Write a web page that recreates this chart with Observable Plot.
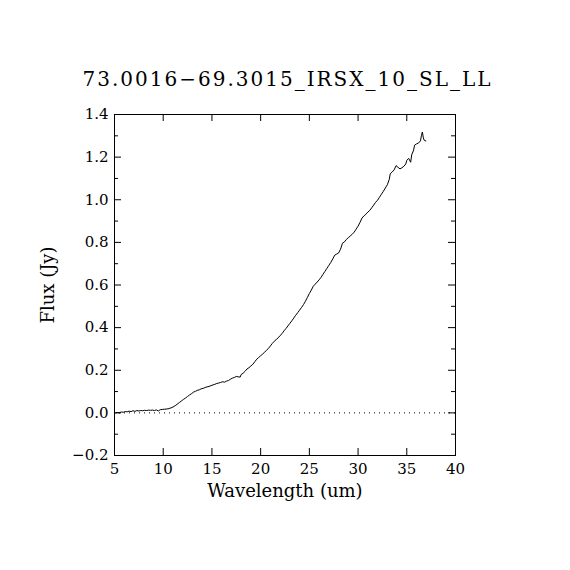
<!DOCTYPE html>
<html>
<head>
<meta charset="utf-8">
<script src="https://cdn.jsdelivr.net/npm/d3@7"></script>
<script src="https://cdn.jsdelivr.net/npm/@observablehq/plot@0.6"></script>
<style>
  html, body { margin: 0; padding: 0; background: #fff; }
</style>
</head>
<body>
<div id="chart"></div>
<script>
const title = "73.0016\u221269.3015_IRSX_10_SL_LL";
const xLabel = "Wavelength (um)";
const yLabel = "Flux (Jy)";

const xTicks = [5, 10, 15, 20, 25, 30, 35, 40];
const yTicks = [-0.2, 0, 0.2, 0.4, 0.6, 0.8, 1.0, 1.2, 1.4];
const yMinorTicks = [-0.1, 0.1, 0.3, 0.5, 0.7, 0.9, 1.1, 1.3];

const wavelength = [
  5.1, 5.3, 5.5, 5.7, 5.9, 6.1, 6.3, 6.5, 6.7, 6.9,
  7.1, 7.3, 7.5, 7.7, 7.9, 8.1, 8.3, 8.5, 8.7, 8.9,
  9.1, 9.3, 9.5, 9.7, 9.9, 10.1, 10.3, 10.5, 10.7, 10.9,
  11.1, 11.3, 11.5, 11.7, 11.9, 12.1, 12.3, 12.5, 12.7, 12.9,
  13.1, 13.3, 13.5, 13.7, 13.9, 14.1, 14.3, 14.5, 14.7, 14.9,
  15.1, 15.3, 15.5, 15.7, 15.9, 16.1, 16.3, 16.5, 16.7, 16.9,
  17.1, 17.3, 17.5, 17.7, 17.9, 18.0, 18.2, 18.4, 18.6, 18.8,
  19.0, 19.2, 19.4, 19.6, 19.8, 20.0, 20.2, 20.4, 20.6, 20.8,
  21.0, 21.2, 21.4, 21.6, 21.8, 22.0, 22.2, 22.4, 22.6, 22.8,
  23.0, 23.2, 23.4, 23.6, 23.8, 24.0, 24.2, 24.4, 24.6, 24.8,
  25.0, 25.2, 25.4, 25.6, 25.8, 26.0, 26.2, 26.4, 26.6, 26.8,
  27.0, 27.2, 27.4, 27.6, 27.8, 28.0, 28.2, 28.4, 28.6, 28.8,
  29.0, 29.2, 29.4, 29.6, 29.8, 30.0, 30.2, 30.4, 30.6, 30.8,
  31.0, 31.2, 31.4, 31.6, 31.8, 32.0, 32.2, 32.4, 32.6, 32.8,
  33.0, 33.2, 33.3, 33.5, 33.7, 33.9, 34.1, 34.3, 34.5, 34.7,
  34.9, 35.0, 35.2, 35.4, 35.5, 35.7, 35.8, 36.0, 36.2, 36.4,
  36.5, 36.6, 36.7, 36.8, 36.95
];
const flux = [
  0.000, 0.002, 0.001, 0.004, 0.003, 0.006, 0.005, 0.008, 0.006, 0.010,
  0.007, 0.011, 0.009, 0.011, 0.010, 0.012, 0.011, 0.013, 0.012, 0.013,
  0.011, 0.014, 0.009, 0.015, 0.016, 0.017, 0.018, 0.019, 0.022, 0.025,
  0.030, 0.036, 0.043, 0.050, 0.057, 0.064, 0.070, 0.077, 0.084, 0.090,
  0.097, 0.101, 0.106, 0.108, 0.113, 0.115, 0.119, 0.122, 0.124, 0.128,
  0.131, 0.134, 0.138, 0.140, 0.143, 0.146, 0.144, 0.149, 0.152, 0.158,
  0.163, 0.166, 0.171, 0.169, 0.168, 0.180, 0.186, 0.195, 0.206, 0.212,
  0.220, 0.228, 0.240, 0.252, 0.260, 0.268, 0.276, 0.284, 0.294, 0.302,
  0.314, 0.326, 0.336, 0.344, 0.352, 0.363, 0.372, 0.385, 0.396, 0.408,
  0.420, 0.432, 0.445, 0.458, 0.470, 0.482, 0.495, 0.508, 0.524, 0.542,
  0.560, 0.576, 0.594, 0.604, 0.614, 0.624, 0.636, 0.650, 0.664, 0.678,
  0.692, 0.706, 0.722, 0.740, 0.745, 0.750, 0.768, 0.796, 0.802, 0.814,
  0.822, 0.830, 0.838, 0.848, 0.862, 0.876, 0.894, 0.914, 0.924, 0.932,
  0.942, 0.950, 0.962, 0.975, 0.988, 0.998, 1.012, 1.026, 1.040, 1.055,
  1.070, 1.095, 1.122, 1.130, 1.140, 1.160, 1.152, 1.145, 1.150, 1.157,
  1.168, 1.185, 1.194, 1.176, 1.210, 1.233, 1.256, 1.262, 1.266, 1.276,
  1.300, 1.318, 1.290, 1.278, 1.276
];

const data = wavelength.map((w, i) => ({w, f: flux[i]}));

const W = 570, H = 570;
const mL = 114, mR = 115, mT = 114, mB = 115;
const fw = W - mL - mR, fh = H - mT - mB;
const major = 7, minor = 4;

const chart = Plot.plot({
  width: W,
  height: H,
  marginLeft: mL,
  marginRight: mR,
  marginTop: mT,
  marginBottom: mB,
  style: {fontFamily: "'DejaVu Serif', serif", fontSize: "15px", background: "#fff", color: "#000", overflow: "visible"},
  x: {domain: [5, 40]},
  y: {domain: [-0.2, 1.4]},
  marks: [
    Plot.ruleY([0], {stroke: "#000", strokeWidth: 1, strokeDasharray: "1,4"}),
    Plot.line(data, {x: "w", y: "f", stroke: "#000", strokeWidth: 1}),
    Plot.frame({stroke: "#000", strokeWidth: 1}),
    Plot.tickX(xTicks, {x: d => d, insetTop: fh - major, stroke: "#000"}),
    Plot.tickX(xTicks, {x: d => d, insetBottom: fh - major, stroke: "#000"}),
    Plot.tickY(yTicks, {y: d => d, insetRight: fw - major, stroke: "#000"}),
    Plot.tickY(yTicks, {y: d => d, insetLeft: fw - major, stroke: "#000"}),
    Plot.tickY(yMinorTicks, {y: d => d, insetRight: fw - minor, stroke: "#000"}),
    Plot.tickY(yMinorTicks, {y: d => d, insetLeft: fw - minor, stroke: "#000"}),
    Plot.axisX({ticks: xTicks, tickSize: 0, tickPadding: 8, tickFormat: d => String(d), label: null, fontSize: 15}),
    Plot.axisY({ticks: yTicks, tickSize: 0, tickPadding: 6, tickFormat: d3.format(".1f"), label: null, fontSize: 15}),
    Plot.text([xLabel], {text: d => d, frameAnchor: "bottom", dy: 29, lineAnchor: "top", textAnchor: "middle", fontSize: 18}),
    Plot.text([yLabel], {text: d => d, frameAnchor: "left", dx: -66, rotate: -90, textAnchor: "middle", fontSize: 18}),
    Plot.text([title], {text: d => d, frameAnchor: "top-left", dx: -32, dy: -29, textAnchor: "start", lineAnchor: "bottom", fontSize: 20})
  ]
});
d3.select(chart).selectAll("text").filter(function() { return this.textContent === title; })
  .attr("textLength", 408).attr("lengthAdjust", "spacing");
document.getElementById("chart").appendChild(chart);
</script>
</body>
</html>
